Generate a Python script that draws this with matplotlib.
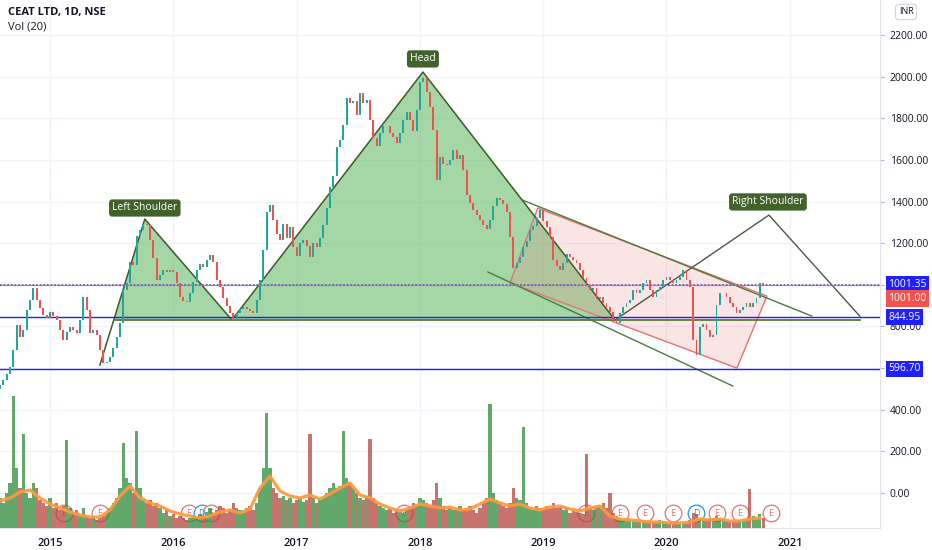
import numpy as np
import pandas as pd
import matplotlib
matplotlib.use("Agg")
import matplotlib.pyplot as plt
import matplotlib.dates as mdates
from matplotlib.patches import Polygon

plt.rcParams['font.family'] = ['Open Sans', 'DejaVu Sans']

# ---------------- data ----------------
first_open = 500
closes = [519, 543, 572, 605, 687, 807, 749, 783, 879, 927,
          985, 927, 889, 855, 841, 869, 850, 831, 783, 735,
          773, 797, 783, 769, 831, 941, 879, 769, 783, 759,
          687, 624, 629, 653, 697, 749, 817, 975, 1009, 1110,
          1095, 1234, 1263, 1292, 1287, 1215, 1129, 1023, 1047, 1071,
          1062, 1071, 1062, 1009, 941, 922, 917, 961, 1014, 1071,
          1100, 1086, 1119, 1143, 1110, 1023, 990, 937, 898, 865,
          831, 865, 884, 893, 884, 874, 865, 927, 1023, 1167,
          1350, 1383, 1311, 1244, 1215, 1292, 1225, 1278, 1182, 1138,
          1201, 1215, 1186, 1134, 1201, 1182, 1225, 1287, 1369, 1470,
          1523, 1662, 1696, 1768, 1897, 1873, 1883, 1816, 1921, 1873,
          1888, 1792, 1705, 1667, 1729, 1763, 1763, 1729, 1710, 1681,
          1729, 1792, 1830, 1792, 1739, 1840, 1974, 1993, 1926, 1854,
          1744, 1503, 1614, 1580, 1576, 1600, 1648, 1604, 1624, 1552,
          1431, 1393, 1359, 1335, 1311, 1287, 1268, 1311, 1379, 1417,
          1407, 1388, 1350, 1230, 1081, 1105, 1134, 1182, 1210, 1263,
          1283, 1321, 1359, 1307, 1278, 1230, 1119, 1090, 1071, 1105,
          1148, 1134, 1119, 1105, 1071, 1033, 994, 975, 985, 932,
          941, 913, 893, 869, 831, 817, 865, 893, 913, 927,
          975, 961, 975, 1009, 1023, 975, 941, 975, 990, 1023,
          1038, 1023, 1009, 1023, 1038, 1071, 1023, 990, 735, 663,
          797, 812, 783, 749, 759, 903, 961, 961, 941, 913,
          893, 865, 879, 893, 913, 893, 913, 937, 1009, 1001]

volumes = [30, 25, 35, 45, 132, 60, 40, 94,
           35, 30, 45, 40, 28, 25, 22, 30,
           20, 25, 18, 22, 88, 20, 15, 18,
           14, 20, 12, 10, 12, 8, 10, 12,
           15, 20, 25, 30, 40, 85, 50, 45,
           35, 97, 40, 30, 25, 28, 22, 25,
           20, 15, 18, 12, 14, 10, 12, 10,
           8, 10, 12, 10, 14, 12, 16, 20,
           15, 18, 22, 20, 15, 18, 25, 20,
           18, 15, 20, 22, 18, 25, 40, 60,
           115, 60, 40, 35, 30, 32, 28, 30,
           25, 28, 30, 26, 28, 94, 30, 25,
           28, 30, 35, 40, 45, 40, 42, 97,
           50, 45, 40, 35, 30, 28, 32, 89,
           30, 25, 22, 20, 18, 20, 15, 18,
           16, 15, 18, 20, 25, 22, 30, 28,
           25, 22, 28, 45, 30, 22, 18, 20,
           18, 20, 22, 18, 20, 22, 18, 15,
           20, 25, 30, 124, 35, 28, 25, 22,
           20, 25, 40, 30, 28, 101, 25, 20,
           18, 22, 20, 18, 22, 20, 25, 20,
           22, 18, 20, 15, 18, 16, 15, 14,
           74, 20, 18, 20, 22, 25, 20, 35,
           15, 12, 10, 8, 9, 7, 8, 9,
           7, 8, 6, 7, 6, 7, 8, 7,
           6, 5, 6, 7, 6, 5, 6, 8,
           15, 14, 10, 9, 8, 9, 10, 12,
           10, 8, 7, 7, 6, 7, 8, 7,
           9, 39, 12, 10, 14, 10]

vol_ma = [27, 30, 36, 38, 30, 24, 20, 16, 13, 11,
          11, 18, 32, 42, 30, 25, 22, 17, 14, 12,
          10, 12, 16, 18, 15, 19, 40, 52, 37, 32,
          30, 33, 29, 34, 40, 45, 33, 30, 24, 20,
          17, 20, 24, 22, 20, 21, 18, 19, 24, 29,
          25, 22, 24, 20, 18, 21, 22, 19, 17, 20,
          22, 12, 9, 8, 7, 6, 6, 5, 5, 6,
          9, 8, 9, 7, 7, 9, 10]

start_date, end_date = '2014-08-06', '2020-10-14'
view_start, view_end = '2014-08-06', '2021-09-25'

# drawings (date, price)
hs_dates = ['2015-05-29', '2015-10-09', '2016-06-23', '2018-01-10',
            '2019-08-02', '2020-10-31', '2021-07-27']
hs_prices = [615, 1316, 831, 2022, 831, 1335, 850]
hs_labels = ['Left Shoulder', 'Head', 'Right Shoulder']
hs_label_prices = [1369, 2085, 1398]
hs_label_dates = ['2015-10-09', '2018-01-10', '2020-10-28']

chan_dates = ['2018-12-16', '2020-10-25', '2020-07-28', '2018-09-25']
chan_prices = [1369, 946, 600, 1009]

upper_line_dates = ['2018-11-01', '2021-03-07']
upper_line_prices = [1407, 850]
lower_line_dates = ['2018-07-21', '2020-07-16']
lower_line_prices = [1062, 514]

level_support = 844.95
level_low = 596.70
level_dotted = 1001.35
last_close = 1001.00

event_dates = ['2015-02-11', '2015-05-29', '2016-02-17', '2016-03-26', '2016-04-22',
               '2017-11-15', '2019-05-08', '2019-08-16', '2019-10-30', '2020-01-21',
               '2020-03-29', '2020-05-30', '2020-08-06', '2020-11-06']
event_kinds = ['E', 'E', 'E', 'D', 'E', 'E', 'E', 'E', 'E', 'E', 'D', 'E', 'E', 'E']

year_ticks = ['2015', '2016', '2017', '2018', '2019', '2020', '2021']
price_ticks = [0, 200, 400, 600, 800, 1000, 1200, 1400, 1600, 1800, 2000, 2200]
hidden_ticks = [600, 1000]

# ---------------- figure ----------------
W, H = 932, 550
fig = plt.figure(figsize=(W / 100, H / 100), dpi=100)
ax = fig.add_axes([0, 22 / H, 880 / W, 528 / H])

dates = pd.date_range(start_date, end_date, periods=len(closes))
opens = [first_open] + closes[:-1]
up = [c >= o for o, c in zip(opens, closes)]
up_col, dn_col = '#26a69a', '#ef5350'
cols = [up_col if u else dn_col for u in up]

# volume pane (twin, created first so that price axis settings stick)
vax = ax.twinx()

ax.set_ylim(-168, 2368)
ax.set_xlim(pd.Timestamp(view_start), pd.Timestamp(view_end))

# grid & ticks
ax.set_xticks([pd.Timestamp(y + '-01-01') for y in year_ticks])
ax.set_xticklabels(year_ticks)
ax.set_yticks(price_ticks)
ax.set_yticklabels(['' if t in hidden_ticks else f'{t:.2f}' for t in price_ticks])
ax.grid(True, color='#f0f3fa', lw=1, zorder=0)
ax.set_axisbelow(True)
ax.yaxis.tick_right()
ax.yaxis.set_label_position('right')
ax.tick_params(axis='y', which='both', left=False, labelleft=False, right=True,
               labelright=True, length=3, color='#b2b5be', labelsize=7.5,
               labelcolor='#131722', pad=4)
ax.tick_params(axis='x', length=0, labelsize=8, labelcolor='#131722', pad=7)
for lab in ax.get_xticklabels():
    lab.set_fontweight('semibold')
for s in ['left', 'top']:
    ax.spines[s].set_visible(False)
ax.spines['right'].set_color('#e0e3eb')
ax.spines['bottom'].set_color('#e0e3eb')

# head & shoulders
hd = [mdates.date2num(pd.Timestamp(d)) for d in hs_dates]
hp = hs_prices
neck = hp[2]
t = (neck - hp[0]) / (hp[1] - hp[0])
xc = hd[0] + t * (hd[1] - hd[0])
fill_kw = dict(fc=(0.30, 0.69, 0.31, 0.5), ec='none', zorder=1)
ax.add_patch(Polygon([(xc, neck), (hd[1], hp[1]), (hd[2], hp[2])], **fill_kw))
ax.add_patch(Polygon([(hd[2], hp[2]), (hd[3], hp[3]), (hd[4], hp[4])], **fill_kw))
edge = '#3d5a26'
ax.plot(hd[:5], hp[:5], color=edge, lw=1.1, zorder=2)
ax.plot(hd[4:], hp[4:], color='#4a5a40', lw=1.0, zorder=2)
ax.plot([xc, hd[6]], [neck, neck], color='#5b7a34', lw=1.3, zorder=2)

# pink channel
cd = [mdates.date2num(pd.Timestamp(d)) for d in chan_dates]
ax.add_patch(Polygon(list(zip(cd, chan_prices)), closed=True,
                     fc=(0.95, 0.45, 0.45, 0.18), ec='#e57373', lw=1.0, zorder=1.5))

# green channel lines
ax.plot(pd.to_datetime(upper_line_dates), upper_line_prices, color='#4f7a3a', lw=1.0, zorder=2)
ax.plot(pd.to_datetime(lower_line_dates), lower_line_prices, color='#4f7a3a', lw=1.0, zorder=2)

# horizontal levels
ax.axhline(level_support, color='#2020ff', lw=1.0, zorder=2.2)
ax.axhline(level_low, color='#2020ff', lw=1.0, zorder=2.2)
ax.axhline(last_close, color='#9e9e9e', lw=0.8, zorder=2.1)
ax.axhline(level_dotted, color='#7e57c2', lw=1.3, ls=(0, (1, 1)), zorder=2.2)

# candles
bodies = [c - o for o, c in zip(opens, closes)]
ax.bar(dates, bodies, bottom=opens, width=5.5, color=cols, zorder=3)

# pattern labels
for lab, d, p in zip(hs_labels, hs_label_dates, hs_label_prices):
    ax.text(pd.Timestamp(d), p, lab, ha='center', va='center', color='white',
            fontsize=7.5, zorder=6,
            bbox=dict(boxstyle='round,pad=0.3,rounding_size=0.3', fc='#41622a', ec='none'))

# right price labels
ytr = ax.get_yaxis_transform()
def price_tag(val, fc, dy=0):
    ax.annotate(f'{val:.2f}', xy=(1.0, val), xycoords=ytr, xytext=(6, dy),
                textcoords='offset points', ha='left', va='center', fontsize=7.5,
                color='white', zorder=10, annotation_clip=False,
                bbox=dict(boxstyle='square,pad=0.25', fc=fc, ec='none'))
price_tag(level_dotted, '#1f1fff')
price_tag(last_close, '#f05350', dy=-10)
price_tag(level_support, '#1f1fff')
price_tag(level_low, '#1f1fff')

# volume
vax.set_ylim(0, 528)
vax.yaxis.set_visible(False)
for s in vax.spines.values():
    s.set_visible(False)
vcols = ['#2e8b3a' if u else '#b5453f' for u in up]
vax.bar(dates, volumes, width=9.5, color=vcols, alpha=0.75, zorder=3)
vax.plot(dates[::3], vol_ma, color='#ff9a40', lw=2.3, zorder=4, alpha=0.95)
for d, k in zip(event_dates, event_kinds):
    c = '#2196f3' if k == 'D' else '#e57373'
    vax.plot(pd.Timestamp(d), 15, marker='o', ms=12, mfc='white', mec=c,
             mew=0.9, zorder=2)
    vax.text(pd.Timestamp(d), 15, k, ha='center', va='center', fontsize=6.5,
             color=c, zorder=2.1)
vax.set_xlim(pd.Timestamp(view_start), pd.Timestamp(view_end))

# header texts
fig.text(8 / W, 1 - 13 / H, 'CEAT LTD, 1D, NSE', fontsize=8, fontweight='bold',
         color='#131722', va='center', ha='left')
fig.text(8 / W, 1 - 27 / H, 'Vol (20)', fontsize=8, color='#131722',
         va='center', ha='left')
fig.text(906 / W, 1 - 12 / H, 'INR', fontsize=6.5, color='#131722', va='center',
         ha='center', bbox=dict(boxstyle='round,pad=0.35', fc='white', ec='#d1d4dc', lw=0.8))

fig.savefig('out.png', dpi=100, facecolor='white')
